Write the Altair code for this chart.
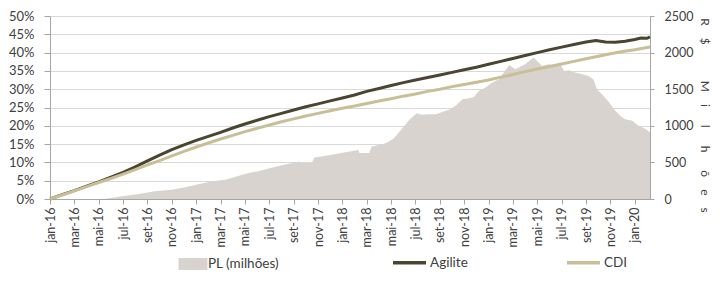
import altair as alt
import pandas as pd

# ---- data ----
tick_months = list(range(0, 49, 2))
tick_labels = ["jan-16", "mar-16", "mai-16", "jul-16", "set-16", "nov-16",
               "jan-17", "mar-17", "mai-17", "jul-17", "set-17", "nov-17",
               "jan-18", "mar-18", "mai-18", "jul-18", "set-18", "nov-18",
               "jan-19", "mar-19", "mai-19", "jul-19", "set-19", "nov-19",
               "jan-20"]

agilite_month = list(range(0, 45)) + [44.8, 45.6, 46.4, 47.2, 48, 48.5, 49, 49.25]
agilite_pct = [0.0, 1.2, 2.3, 3.5, 4.7, 6.0, 7.3, 8.8, 10.4, 12.0, 13.5, 14.8,
               16.0, 17.1, 18.2, 19.4, 20.5, 21.5, 22.5, 23.4, 24.3, 25.2, 26.0, 26.8,
               27.6, 28.4, 29.4, 30.2, 31.0, 31.8, 32.5, 33.2, 33.9, 34.6, 35.3, 36.0,
               36.8, 37.6, 38.4, 39.2, 40.0, 40.8, 41.5, 42.2, 42.9,
               43.3, 42.9, 42.8, 43.1, 43.6, 44.0, 43.9, 44.3]

cdi_month = list(range(0, 50)) + [49.25]
cdi_pct = [0.0, 1.1, 2.2, 3.4, 4.5, 5.6, 6.8, 8.0, 9.3, 10.5, 11.8, 13.0,
           14.2, 15.3, 16.4, 17.4, 18.4, 19.3, 20.2, 21.1, 21.9, 22.7, 23.4, 24.1,
           24.8, 25.4, 26.1, 26.8, 27.4, 28.1, 28.7, 29.4, 30.0, 30.7, 31.3, 31.9,
           32.5, 33.3, 34.0, 34.8, 35.5, 36.2, 36.9, 37.6, 38.3, 39.0, 39.7, 40.3,
           40.8, 41.4, 41.5]

pl_month = [0, 4, 4.6, 5.9, 7.3, 8.6, 10, 11.1, 12, 13.3, 14.4, 15.3, 16.3, 17, 18.1,
            19.2, 20.5, 20.6, 21.5, 21.7, 22.8, 23.9, 25.3, 25.4, 26.2, 26.4, 27.1,
            27.6, 28.2, 28.7, 29.5, 30.1, 30.5, 31, 31.7, 32.3, 32.75, 33.3, 33.85,
            34.4, 34.8, 35.2, 35.75, 36.3, 36.85, 37.25, 37.7, 38.2, 39.0, 39.7, 40.4,
            40.95, 41.5, 41.9, 42.2, 42.6, 43.1, 43.7, 44.2, 44.6, 44.9, 45.3, 45.9,
            46.4, 46.8, 47.2, 47.8, 48.3, 48.9, 49.25]
pl_value = [0, 0, 5, 36, 68, 105, 127, 159, 195, 241, 264, 309, 355, 377, 423,
            468, 514, 491, 495, 568, 595, 627, 668, 627, 630, 718, 741,
            764, 823, 923, 1082, 1173, 1150, 1159, 1159, 1195, 1218, 1273, 1364,
            1377, 1395, 1477, 1523, 1590, 1636, 1727, 1832, 1773, 1840, 1932, 1818,
            1840, 1818, 1840, 1750, 1760, 1727, 1705, 1682, 1636, 1500, 1432, 1318,
            1205, 1136, 1091, 1068, 1000, 955, 909]

# ---- styling ----
FONT = "Lato"
TXT = "#404040"
AXC = "#a6a6a6"
GRID = "#d9d9d9"
AREA_C = "#d8d3ce"
AGI_C = "#4a4531"
CDI_C = "#c9bf97"

pl_df = pd.DataFrame({"m": pl_month, "pl": pl_value, "serie": "PL (milhões)"})
lines_df = pd.concat([
    pd.DataFrame({"m": agilite_month, "pct": agilite_pct, "serie": "Agilite"}),
    pd.DataFrame({"m": cdi_month, "pct": cdi_pct, "serie": "CDI"}),
])

label_expr = "[" + ",".join("'%s'" % l for l in tick_labels) + "][round(datum.value/2)]"
x_axis = alt.Axis(values=tick_months, labelExpr=label_expr, labelAngle=-90, grid=False,
                  title=None, tickSize=5, labelPadding=3, labelFontSize=12.5)
x_enc = alt.X("m:Q", scale=alt.Scale(domain=[0, 49.25], nice=False, zero=False), axis=x_axis)

es = "\u2002"
right_title = ("R" + es * 2 + "$" + es * 6 + "M" + es * 2 + "i" + es * 3 + "l"
               + es * 3 + "h" + es * 3 + "õ" + es * 2 + "e" + es * 2 + "s")

area = alt.Chart(pl_df).mark_area(color=AREA_C, interpolate="linear").encode(
    x=x_enc,
    y=alt.Y("pl:Q", scale=alt.Scale(domain=[0, 2500], nice=False),
            axis=alt.Axis(orient="right", values=[0, 500, 1000, 1500, 2000, 2500], grid=False,
                          format="d",
                          title=right_title, titleAngle=90, titleFontWeight="normal",
                          titleFontSize=12, titleColor=TXT, titleFont=FONT, titlePadding=5,
                          titleY=99,
                          tickSize=4, labelPadding=10, labelFontSize=12.5)),
    fill=alt.Fill("serie:N", scale=alt.Scale(domain=["PL (milhões)"], range=[AREA_C]),
                  legend=alt.Legend(title=None, orient="none", legendX=133, legendY=238,
                                    symbolType="M-1.45,-0.6H1.45V0.6H-1.45Z", symbolSize=400,
                                    symbolStrokeWidth=0, labelFontSize=13.5, labelFont=FONT,
                                    labelColor=TXT, labelOffset=5)),
)

lines = alt.Chart(lines_df).mark_line(strokeWidth=3, interpolate="linear").encode(
    x=x_enc,
    y=alt.Y("pct:Q", scale=alt.Scale(domain=[0, 50], nice=False),
            axis=alt.Axis(orient="left", values=list(range(0, 51, 5)),
                          labelExpr="datum.value + '%'", grid=True, gridColor=GRID,
                          title=None, tickSize=6, labelPadding=10, labelFontSize=13,
                          domain=True)),
    stroke=alt.Stroke("serie:N", scale=alt.Scale(domain=["Agilite", "CDI"], range=[AGI_C, CDI_C]),
                      legend=alt.Legend(title=None, orient="none", direction="horizontal",
                                        legendX=341, legendY=228, symbolType="stroke",
                                        symbolSize=1089, symbolStrokeWidth=3.5,
                                        columnPadding=92, labelFontSize=13.5, labelFont=FONT,
                                        labelColor=TXT, labelOffset=2)),
    detail="serie:N",
)

chart = alt.layer(area, lines).resolve_scale(y="independent", fill="independent",
                                              stroke="independent").properties(
    width=600, height=183, padding={"left": 0, "top": 2, "right": 0, "bottom": 0}
).configure_view(stroke=None).configure_axis(
    labelFont=FONT, labelColor=TXT, domainColor=AXC, tickColor=AXC, gridColor=GRID,
    gridWidth=1, domainWidth=1, tickWidth=1
)

chart.save("out.html", embed_options={"renderer": "svg", "actions": False})
